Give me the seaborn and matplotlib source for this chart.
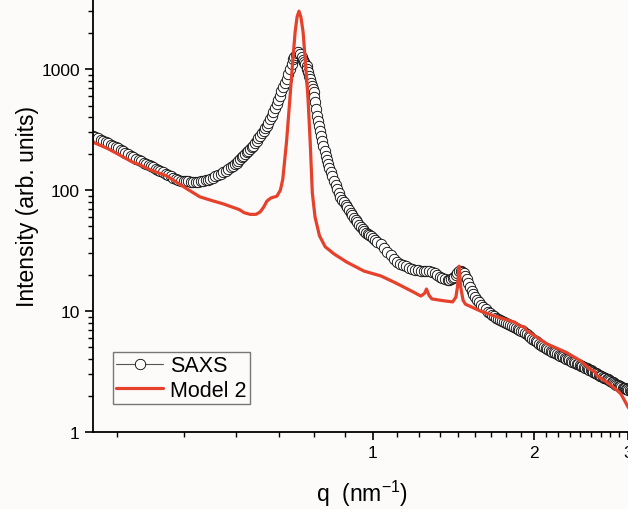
import numpy as np
import pandas as pd
import matplotlib
matplotlib.use("Agg")
import matplotlib.pyplot as plt
import matplotlib.ticker as mticker
import seaborn as sns

# SAXS data (q in nm^-1, intensity arb. units)
saxs_q = [0.300, 0.303, 0.306, 0.310, 0.313, 0.317, 0.320, 0.324, 0.327, 0.331,
          0.334, 0.338, 0.342, 0.345, 0.349, 0.353, 0.357, 0.361, 0.365, 0.369,
          0.373, 0.377, 0.381, 0.385, 0.389, 0.393, 0.397, 0.401, 0.406, 0.410,
          0.415, 0.419, 0.424, 0.428, 0.433, 0.438, 0.443, 0.447, 0.452, 0.457,
          0.462, 0.467, 0.472, 0.477, 0.482, 0.487, 0.492, 0.497, 0.503, 0.508,
          0.514, 0.520, 0.526, 0.531, 0.537, 0.543,
          0.549, 0.553, 0.557, 0.561, 0.565, 0.569, 0.573, 0.577, 0.581, 0.585,
          0.590, 0.594, 0.598, 0.603, 0.607, 0.611, 0.616, 0.620, 0.625, 0.629,
          0.634, 0.638, 0.643, 0.647, 0.652, 0.656, 0.661, 0.666, 0.671, 0.675,
          0.680, 0.685, 0.690, 0.695, 0.700, 0.705, 0.710, 0.714, 0.718, 0.722,
          0.726, 0.731,
          0.737, 0.741, 0.745, 0.748, 0.752, 0.755, 0.758, 0.761, 0.763, 0.766,
          0.769, 0.772, 0.775, 0.778, 0.780, 0.784, 0.788, 0.791, 0.794, 0.797,
          0.800, 0.805, 0.809, 0.813, 0.818, 0.822, 0.826, 0.830, 0.835, 0.840,
          0.846, 0.852, 0.858, 0.864, 0.870, 0.876, 0.883, 0.890, 0.896, 0.903,
          0.910, 0.916, 0.922, 0.929, 0.935, 0.943, 0.950, 0.958, 0.965, 0.972,
          0.978, 0.985, 0.991, 1.000, 1.010, 1.020, 1.035, 1.050, 1.065, 1.080,
          1.095, 1.110, 1.125, 1.140, 1.155, 1.170, 1.185, 1.200, 1.215, 1.230,
          1.245, 1.260, 1.275, 1.290, 1.305, 1.320, 1.335, 1.350, 1.365, 1.380,
          1.390, 1.400, 1.410, 1.420, 1.430, 1.440, 1.450, 1.460, 1.470, 1.480,
          1.490, 1.500, 1.510, 1.520, 1.530, 1.540,
          1.550, 1.565, 1.580, 1.595, 1.610, 1.625, 1.640, 1.655, 1.670, 1.685,
          1.700, 1.715, 1.730, 1.745, 1.760, 1.775, 1.790, 1.805, 1.820, 1.835,
          1.850, 1.865, 1.880, 1.895, 1.910, 1.925, 1.940, 1.955, 1.970, 1.985,
          2.000, 2.015, 2.030, 2.045, 2.060, 2.075, 2.090, 2.105, 2.120, 2.135,
          2.150, 2.165, 2.180, 2.195, 2.210, 2.225, 2.240, 2.255, 2.270, 2.285,
          2.300, 2.315, 2.330, 2.345, 2.360, 2.375, 2.390, 2.405, 2.420, 2.435,
          2.450, 2.465, 2.480, 2.495, 2.510, 2.525, 2.540, 2.555, 2.570, 2.585,
          2.600, 2.615, 2.630, 2.645, 2.660, 2.675, 2.690, 2.705, 2.720, 2.735,
          2.750, 2.765, 2.780, 2.795, 2.810, 2.825, 2.840, 2.855, 2.870, 2.885,
          2.900, 2.915, 2.930, 2.945, 2.960, 2.975, 2.990, 3.005, 3.020, 3.035,
          3.050]
saxs_i = [281, 274, 268, 261, 255, 249, 243, 237, 232, 226,
          221, 216, 211, 204, 198, 192, 186, 181, 177, 173,
          169, 165, 161, 157, 154, 150, 147, 143, 140, 136,
          133, 130, 127, 124, 122, 120, 119, 118.5, 118, 117.5,
          117, 117, 117.5, 118, 119, 120.5, 122, 124.5, 127, 130,
          133, 136.5, 140, 144, 149, 154,
          159, 164, 169, 174, 180, 186, 192, 198, 205, 211,
          218, 225, 232, 243, 255, 268, 281, 294, 308, 323,
          340, 360, 385, 410, 439, 475, 515, 555, 602, 655,
          710, 765, 827, 910, 1000, 1100, 1210, 1265, 1310, 1350,
          1374, 1340,
          1249, 1200, 1150, 1110, 1065, 1010, 950, 885, 827, 775,
          730, 685, 642, 585, 531, 470, 411, 375, 340, 310,
          281, 255, 232, 211, 192, 178, 165, 152, 140, 130,
          120, 110, 102, 95, 88, 83, 79, 75, 72, 68,
          65, 62, 59, 56.5, 54, 51.5, 49.5, 47.5, 46, 44.5,
          43.5, 42.5, 41.9, 40.5, 39, 37.5, 35.5, 33.5, 31, 29,
          27, 25.5, 24.7, 24, 23.4, 22.8, 22.4, 22.0, 21.8, 21.6,
          21.5, 21.4, 21.3, 21.2, 20.5, 19.8, 19.2, 18.7, 18.3, 18.0,
          18.1, 18.3, 18.6, 19.0, 19.8, 20.8, 21.3, 21.5, 21.1, 20.5,
          19.6, 18.5, 17.0, 15.7, 14.6, 13.8,
          13.0, 12.4, 11.8, 11.3, 10.8, 10.35, 9.9, 9.6, 9.3, 9.05,
          8.8, 8.6, 8.4, 8.25, 8.1, 7.95, 7.8, 7.65, 7.5, 7.35,
          7.2, 7.1, 7.0, 6.9, 6.8, 6.6, 6.4, 6.25, 6.1, 5.9,
          5.75, 5.62, 5.5, 5.37, 5.25, 5.15, 5.05, 4.95, 4.85, 4.77,
          4.70, 4.62, 4.55, 4.48, 4.42, 4.35, 4.28, 4.21, 4.15, 4.10,
          4.05, 3.99, 3.93, 3.87, 3.82, 3.77, 3.72, 3.67, 3.62, 3.57,
          3.53, 3.48, 3.44, 3.39, 3.35, 3.31, 3.27, 3.23, 3.19, 3.14,
          3.10, 3.05, 3.01, 2.97, 2.93, 2.89, 2.86, 2.82, 2.79, 2.75,
          2.72, 2.68, 2.65, 2.61, 2.58, 2.54, 2.51, 2.47, 2.44, 2.41,
          2.38, 2.35, 2.33, 2.31, 2.29, 2.27, 2.26, 2.24, 2.22, 2.20,
          2.18]

# Model 2 curve
model_q = [0.300, 0.320, 0.340, 0.356, 0.366, 0.380, 0.395, 0.412, 0.430, 0.450,
           0.475, 0.500, 0.525, 0.548, 0.563, 0.575, 0.590, 0.605, 0.616, 0.625,
           0.634, 0.645, 0.662, 0.672, 0.679, 0.690, 0.700, 0.708, 0.716, 0.722,
           0.728, 0.734, 0.741, 0.749, 0.757, 0.764, 0.771, 0.780, 0.795, 0.815,
           0.847, 0.894, 0.963, 1.036, 1.10, 1.19, 1.23, 1.25, 1.26, 1.275,
           1.29, 1.35, 1.41, 1.43, 1.44, 1.45, 1.46, 1.475, 1.49, 1.59,
           1.70, 1.84, 1.89, 1.92, 1.94, 2.12, 2.30, 2.45, 2.55, 2.60,
           2.63, 2.75, 2.85, 2.91, 2.95, 3.00, 3.05]
model_i = [249, 220, 190, 170, 163, 150, 140, 131, 116, 102,
           88, 82, 77, 72, 69, 65, 63, 63, 66, 72,
           81, 86, 89, 100, 123, 250, 565, 1100, 2023, 2700,
           3015, 2700, 2023, 1100, 565, 250, 95, 60, 42, 34,
           29.6, 25.4, 21.4, 19.5, 17.2, 14.4, 13.3, 14.0, 15.2, 13.4,
           12.6, 12.2, 11.9, 13.0, 15.8, 23.5, 15.8, 12.3, 11.4, 10.0,
           9.0, 8.1, 7.5, 7.4, 6.9, 5.33, 4.55, 3.86, 3.3, 3.15,
           2.9, 2.55, 2.25, 2.06, 1.85, 1.61, 1.45]

saxs = pd.DataFrame({'q': saxs_q, 'I': saxs_i})
model = pd.DataFrame({'q': model_q, 'I': model_i})

sns.set_style("ticks")
plt.rcParams['font.family'] = ['Liberation Sans', 'DejaVu Sans']
plt.rcParams['mathtext.default'] = 'regular'
plt.rcParams['text.color'] = 'black'
plt.rcParams['axes.labelcolor'] = 'black'
plt.rcParams['xtick.color'] = 'black'
plt.rcParams['ytick.color'] = 'black'

red = '#e5412b'
bg = '#fcfbfa'

fig = plt.figure(figsize=(6.28, 5.10), dpi=100, facecolor=bg)
ax = fig.add_axes([93/628, 77/510, 550/628, 433/510])
ax.set_facecolor(bg)

sns.lineplot(data=saxs, x='q', y='I', ax=ax, sort=False, estimator=None,
             color='#555555', linewidth=0.8, marker='o', markersize=7.5,
             markerfacecolor='white', markeredgecolor='black', markeredgewidth=0.6,
             label='SAXS')
sns.lineplot(data=model, x='q', y='I', ax=ax, sort=False, estimator=None,
             color=red, linewidth=2.3, label='Model 2')

ax.set_xscale('log')
ax.set_yscale('log')
ax.set_xlim(0.3, 3.2)
ax.set_ylim(1, 3800)

ax.xaxis.set_major_locator(mticker.FixedLocator([1, 2, 3]))
ax.xaxis.set_major_formatter(mticker.FixedFormatter(['1', '2', '3']))
ax.xaxis.set_minor_locator(mticker.FixedLocator([k / 9 for k in range(3, 29) if k % 9]))
ax.xaxis.set_minor_formatter(mticker.NullFormatter())
ax.yaxis.set_major_locator(mticker.FixedLocator([1, 10, 100, 1000]))
ax.yaxis.set_major_formatter(mticker.FixedFormatter(['1', '10', '100', '1000']))
ax.yaxis.set_minor_locator(mticker.LogLocator(base=10, subs=np.arange(2, 10)))
ax.yaxis.set_minor_formatter(mticker.NullFormatter())

ax.tick_params(which='major', direction='out', length=6, width=1.2, labelsize=12.5,
               color='black', labelcolor='black')
ax.tick_params(which='minor', direction='out', length=3.5, width=1.0, color='black')
for s in ['top', 'right']:
    ax.spines[s].set_visible(False)
for s in ['left', 'bottom']:
    ax.spines[s].set_linewidth(1.3)
    ax.spines[s].set_color('black')

ax.set_xlabel(r'q  (nm$^{-1}$)', fontsize=16.5, color='black')
ax.set_ylabel('Intensity (arb. units)', fontsize=16.5, color='black')
ax.xaxis.set_label_coords(0.489, -0.105)
ax.yaxis.set_label_coords(-0.098, 0.522)

leg = ax.legend(loc='lower left', bbox_to_anchor=(0.036, 0.065), borderaxespad=0,
                fontsize=15.5, fancybox=False, framealpha=1, edgecolor='#777777',
                handlelength=2.2, handletextpad=0.3, borderpad=0.15,
                labelspacing=0.15, facecolor=bg)
leg.get_frame().set_linewidth(1.0)
for t in leg.get_texts():
    t.set_color('black')

fig.savefig('out.png', dpi=100, facecolor=bg)
